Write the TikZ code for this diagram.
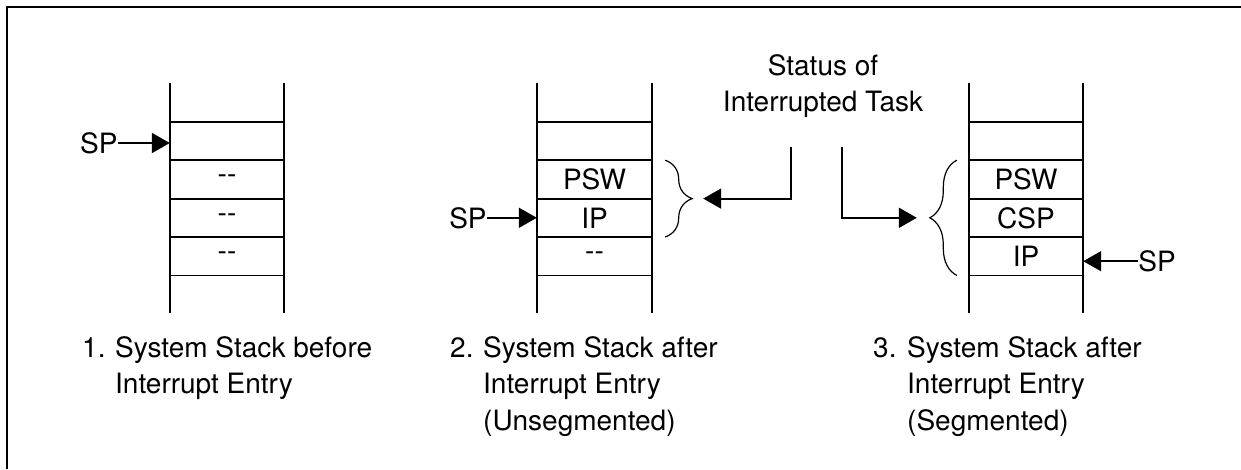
\documentclass[tikz,border=0pt]{standalone}
\usepackage{fontspec}
\setmainfont{TeX Gyre Heros}
\usepackage{tikz}
\usetikzlibrary{arrows.meta, positioning, decorations.pathreplacing}
\tikzset{
    frame/.style = {line width=2.4pt},
    wall/.style = {line width=1.8pt},
    cell/.style = {rectangle, minimum width=114pt, minimum height=38pt, inner sep=0pt},
    lbl/.style = {inner sep=0pt},
    ptr/.style = {line width=1.8pt, -{Triangle[length=18pt,width=20pt]}},
    curly/.style = {line width=1.2pt, decorate, decoration={brace, amplitude=27pt}},
    caption/.style = {inner sep=0pt, align=left}
}

\begin{document}
\begin{tikzpicture}[x=1pt, y=-1pt, font=\fontsize{28}{36.5}\selectfont]
    \useasboundingbox (0,0) rectangle (1241,469);

    % Frame
    \draw[frame] (1241,7) -- (7,7) -- (7,469);

    % Stack 1
    \node[cell] (a2) at (227,141) {};
    \node[cell] (a3) [below=0pt of a2] {{-}{-}};
    \node[cell] (a4) [below=0pt of a3] {{-}{-}};
    \node[cell] (a5) [below=0pt of a4] {{-}{-}};

    % Stack 2
    \node[cell, minimum width=115pt] (b2) at (594.5,141) {};
    \node[cell, minimum width=115pt] (b3) [below=0pt of b2] {PSW};
    \node[cell, minimum width=115pt] (b4) [below=0pt of b3] {IP};
    \node[cell, minimum width=115pt] (b5) [below=0pt of b4] {{-}{-}};

    % Stack 3
    \node[cell] (c2) at (1026,141) {};
    \node[cell] (c3) [below=0pt of c2] {PSW};
    \node[cell] (c4) [below=0pt of c3] {CSP};
    \node[cell] (c5) [below=0pt of c4] {IP};

    % Stack lines
    \foreach \s in {a,b,c} {
        \draw[wall] ([yshift=39pt]\s2.north west) -- ([yshift=-38pt]\s5.south west);
        \draw[wall] ([yshift=39pt]\s2.north east) -- ([yshift=-38pt]\s5.south east);
        \foreach \r in {2,...,5}
            \draw[wall] (\s\r.north west) -- (\s\r.north east);
        \draw[wall] (\s5.south west) -- (\s5.south east);
    }

    % Stack pointers
    \node[lbl, anchor=east] (spa) at ([xshift=-52pt,yshift=-2pt]a2.west) {SP};
    \node[lbl, left=50pt of b4.west] (spb) {SP};
    \node[lbl, anchor=west] (spc) at ([xshift=55pt,yshift=-5pt]c5.east) {SP};
    \draw[ptr] (spa) -- (spa -| a2.west);
    \draw[ptr] (spb) -- (b4.west);
    \draw[ptr] (spc) -- (spc -| c5.east);

    % Braces
    \draw[curly] ([xshift=13pt]b3.north east) -- ([xshift=13pt]b4.south east);
    \draw[curly] ([xshift=-12pt]c5.south west) -- ([xshift=-12pt]c3.north west);

    % Status of interrupted task
    \node[lbl, align=center] (status) at (823,86) {Status of\\Interrupted Task};
    \coordinate (fromb) at (791,147);
    \coordinate (fromc) at (842,147);
    \coordinate (tob) at ([xshift=51pt]b3.south east);
    \coordinate (toc) at ([xshift=-52pt]c4.west);
    \draw[ptr] (fromb) |- (tob);
    \draw[ptr] (fromc) |- (toc);

    % Captions
    \node[caption, anchor=base west] (numa) at (82,357) {1.};
    \node[caption, anchor=base west] (capa) at (115,393.5) {System Stack before\\Interrupt Entry};
    \node[caption, anchor=base west] (numb) at (450,357) {2.};
    \node[caption, anchor=base west] (capb) at (483,430) {System Stack after\\Interrupt Entry\\(Unsegmented)};
    \node[caption, anchor=base west] (numc) at (873,357) {3.};
    \node[caption, anchor=base west] (capc) at (907,430) {System Stack after\\Interrupt Entry\\(Segmented)};
\end{tikzpicture}
\end{document}
